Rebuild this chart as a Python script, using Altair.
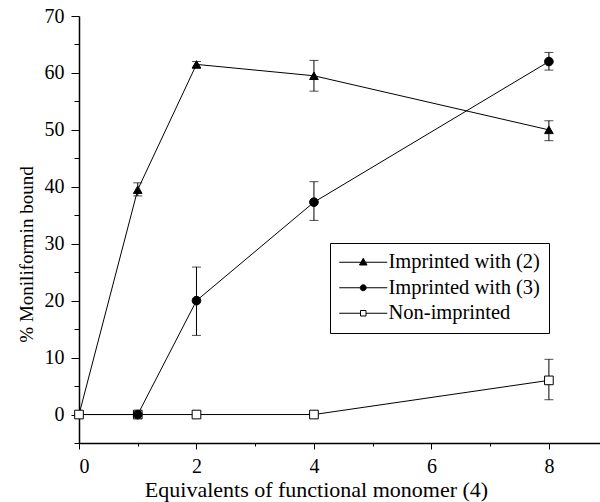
import altair as alt
import pandas as pd

series_names = ["Imprinted with (2)", "Imprinted with (3)", "Non-imprinted"]

x_tri = [0, 1, 2, 4, 8]
y_tri = [0, 39.5, 61.5, 59.5, 50.0]
x_cir = [0, 1, 2, 4, 8]
y_cir = [0, 0, 20.0, 37.3, 62.0]
x_sq = [0, 1, 2, 4, 8]
y_sq = [0, 0, 0, 0, 6.0]

err_series = ["Imprinted with (2)"] * 4 + ["Imprinted with (3)"] * 3 + ["Non-imprinted"]
err_x = [1, 2, 4, 8, 2, 4, 8, 8]
err_lo = [38.4, 60.9, 56.8, 48.1, 13.9, 34.1, 60.5, 2.6]
err_hi = [40.7, 62.0, 62.2, 51.6, 25.9, 40.9, 63.6, 9.7]

FONT = "Liberation Serif"

rows = []
for name, xs, ys in [(series_names[2], x_sq, y_sq),
                     (series_names[0], x_tri, y_tri),
                     (series_names[1], x_cir, y_cir)]:
    for xv, yv in zip(xs, ys):
        rows.append({"series": name, "x": xv, "y": yv})
df = pd.DataFrame(rows)
err = pd.DataFrame({"series": err_series, "x": err_x, "lo": err_lo, "hi": err_hi})

xscale = alt.Scale(domain=[0, 8.87], nice=False, zero=False)
yscale = alt.Scale(domain=[-5, 70], nice=False, zero=False)

x_axis = alt.Axis(
    values=list(range(0, 9)), tickCount=30,
    labelExpr="datum.value % 2 === 0 ? datum.label : ''",
    tickSize={"condition": {"test": "datum.value % 2 === 0", "value": 6}, "value": 3},
    format="d", labelOverlap=False, labelFontSize=20,
    title="Equivalents of functional monomer (4)",
    titleX=237, titleY=53, titleAlign="center", titleBaseline="alphabetic",
    titleFontSize=22,
    grid=False, labelPadding=7,
)
y_axis = alt.Axis(
    values=list(range(-5, 75, 5)), tickCount=30,
    labelExpr="datum.value % 10 === 0 ? datum.label : ''",
    tickSize={"condition": {"test": "datum.value % 10 === 0", "value": 8}, "value": 5},
    format="d", labelOverlap=False, labelFontSize=20,
    title="% Moniliformin bound",
    titleX=-53, titleY=238, titleAlign="center", titleBaseline="middle", titleAngle=270,
    titleFontSize=19,
    grid=False, labelPadding=7,
)

base = alt.Chart(df)

lines = base.mark_line(color="black", strokeWidth=1).encode(
    x=alt.X("x:Q", scale=xscale, axis=x_axis),
    y=alt.Y("y:Q", scale=yscale, axis=y_axis),
    detail="series:N",
    order="x:Q",
)

err_rules = alt.Chart(err).mark_rule(color="black", strokeWidth=1).encode(
    x="x:Q", y="lo:Q", y2="hi:Q"
)
err_lo_ticks = alt.Chart(err).mark_tick(color="black", orient="horizontal", size=9, thickness=1).encode(
    x="x:Q", y="lo:Q"
)
err_hi_ticks = alt.Chart(err).mark_tick(color="black", orient="horizontal", size=9, thickness=1).encode(
    x="x:Q", y="hi:Q"
)

points = base.transform_filter(
    "datum.x > 0 || datum.series === 'Non-imprinted'"
).mark_point(opacity=1, strokeWidth=1, stroke="black", size=75).encode(
    x="x:Q",
    y="y:Q",
    shape=alt.Shape("series:N", scale=alt.Scale(domain=series_names,
                    range=["triangle-up", "circle", "square"]), legend=None),
    fill=alt.Fill("series:N", scale=alt.Scale(domain=series_names,
                  range=["black", "black", "white"]), legend=None),
)

tri_path = "M-4.8,0H-0.4M0.4,0H4.8M0,-0.8L0.75,0.55L-0.75,0.55Z"
cir_path = "M-4.8,0H-0.6M0.6,0H4.8M0.6,0A0.6,0.6,0,1,1,-0.6,0A0.6,0.6,0,1,1,0.6,0Z"
sq_path = "M-4.8,0H-0.55M0.55,0H4.8M-0.55,-0.55H0.55V0.55H-0.55Z"

leg = alt.Legend(
    orient="none", legendX=251, legendY=227, title=None,
    strokeColor="black", fillColor="white", padding=9,
    labelFont=FONT, labelFontSize=20.5, labelColor="black", labelLimit=400,
    symbolSize=100, symbolStrokeWidth=1, symbolStrokeColor="black",
    symbolOffset=14, labelOffset=15, rowPadding=4.5,
)

legend_layer = base.transform_calculate(lg="datum.series").transform_filter(
    "false"
).mark_point(opacity=1, strokeWidth=1).encode(
    x="x:Q",
    y="y:Q",
    shape=alt.Shape("lg:N", scale=alt.Scale(domain=series_names,
                    range=[tri_path, cir_path, sq_path]), legend=leg),
    fill=alt.Fill("lg:N", scale=alt.Scale(domain=series_names,
                  range=["black", "black", "white"]), legend=leg),
    stroke=alt.Stroke("lg:N", scale=alt.Scale(domain=series_names,
                      range=["black", "black", "black"]), legend=leg),
)

chart = alt.layer(
    lines, err_rules, err_lo_ticks, err_hi_ticks, points, legend_layer
).resolve_scale(
    shape="independent", fill="independent", stroke="independent"
).properties(
    width=521, height=427,
    padding={"left": 79, "top": 16, "right": 0, "bottom": 59},
    autosize=alt.AutoSizeParams(type="none"),
    background="white",
).configure_view(
    stroke=None
).configure_axis(
    domainColor="black", domainWidth=1.5, tickColor="black", tickWidth=1,
    labelFont=FONT, labelColor="black",
    titleFont=FONT, titleFontWeight="normal", titleColor="black",
)

chart.save("out.html", embed_options={"renderer": "svg", "actions": False})
